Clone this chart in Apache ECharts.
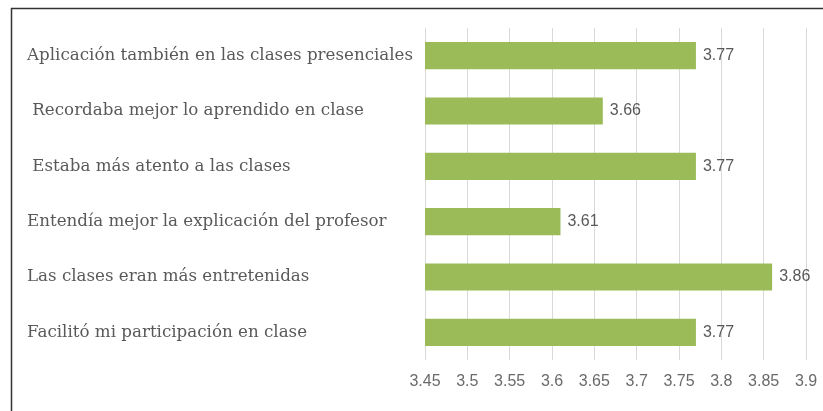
<!DOCTYPE html>
<html>
<head>
<meta charset="utf-8">
<script src="https://cdn.jsdelivr.net/npm/echarts@6/dist/echarts.min.js"></script>
<style>
  html, body { margin: 0; padding: 0; background: #fff; }
  #chart { width: 823px; height: 411px; }
</style>
</head>
<body>
<div id="chart"></div>
<script>
  // categories, bottom to top (category axis draws first item at the bottom)
  var categories = [
    'Facilitó mi participación en clase',
    'Las clases eran más entretenidas',
    'Entendía mejor la explicación del profesor',
    ' Estaba más atento a las clases',
    ' Recordaba mejor lo aprendido en clase',
    'Aplicación también en las clases presenciales'
  ];
  var values = [3.77, 3.86, 3.61, 3.77, 3.66, 3.77];
  var axisMin = 3.45;
  var axisMax = 3.9;
  var axisStep = 0.05;

  var chart = echarts.init(document.getElementById('chart'));
  chart.setOption({
    animation: false,
    backgroundColor: '#fff',
    graphic: [
      { type: 'line', shape: { x1: 11, y1: 8.5, x2: 823, y2: 8.5 }, style: { stroke: '#333', lineWidth: 1.5 } },
      { type: 'line', shape: { x1: 11.5, y1: 8, x2: 11.5, y2: 411 }, style: { stroke: '#333', lineWidth: 1.5 } }
    ],
    grid: { left: 425, right: 17, top: 28, bottom: 51, containLabel: false },
    xAxis: {
      type: 'value',
      min: axisMin,
      max: axisMax,
      interval: axisStep,
      axisLine: { show: false },
      axisTick: { show: false },
      splitLine: { show: true, lineStyle: { color: '#d9d9d9', width: 1 } },
      axisLabel: {
        margin: 14,
        color: '#6a6a6a',
        fontFamily: 'Liberation Sans Narrow, Liberation Sans, sans-serif',
        fontSize: 16,
        formatter: function (v) { return String(Math.round(v * 100) / 100); }
      }
    },
    yAxis: {
      type: 'category',
      data: categories,
      axisLine: { show: false },
      axisTick: { show: false },
      splitLine: { show: false },
      axisLabel: {
        align: 'left',
        margin: 398,
        color: '#595959',
        fontFamily: 'DejaVu Serif, serif',
        fontSize: 16.7
      }
    },
    series: [{
      type: 'bar',
      data: values,
      barCategoryGap: '51%',
      itemStyle: { color: '#9bbb59' },
      label: {
        show: true,
        position: 'right',
        distance: 7,
        color: '#595959',
        fontFamily: 'Liberation Sans Narrow, Liberation Sans, sans-serif',
        fontSize: 16,
        formatter: function (p) { return p.value.toFixed(2); }
      }
    }]
  });
</script>
</body>
</html>
